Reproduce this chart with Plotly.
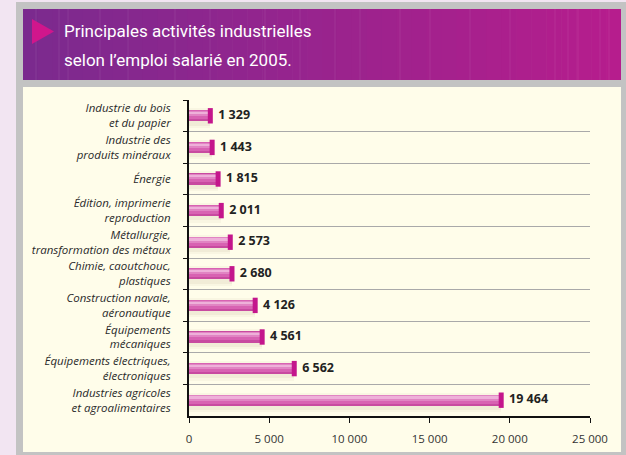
import plotly.graph_objects as go

categories = [
    "Industrie du bois<br>et du papier",
    "Industrie des<br>produits minéraux",
    "Énergie",
    "Édition, imprimerie<br>reproduction",
    "Métallurgie,<br>transformation des métaux",
    "Chimie, caoutchouc,<br>plastiques",
    "Construction navale,<br>aéronautique",
    "Équipements<br>mécaniques",
    "Équipements électriques,<br>électroniques",
    "Industries agricoles<br>et agroalimentaires",
]
values = [1329, 1443, 1815, 2011, 2573, 2680, 4126, 4561, 6562, 19464]
x_tickvals = [0, 5000, 10000, 15000, 20000, 25000]
x_ticktext = ["0", "5 000", "10 000", "15 000", "20 000", "25 000"]
value_labels = [f"{v:,}".replace(",", " ") for v in values]

W, H = 626, 455


def px(x):
    return x / W


def py(y):
    return 1 - y / H


fig = go.Figure()

# soft shadow (two layers)
fig.add_trace(go.Bar(y=categories, x=values, orientation="h", width=0.62, offset=-0.24,
                     marker=dict(color="rgba(140,120,70,0.05)", line=dict(width=0)),
                     hoverinfo="skip", showlegend=False))
fig.add_trace(go.Bar(y=categories, x=values, orientation="h", width=0.48, offset=-0.17,
                     marker=dict(color="rgba(140,120,70,0.07)", line=dict(width=0)),
                     hoverinfo="skip", showlegend=False))
# cylinder body
fig.add_trace(go.Bar(y=categories, x=values, orientation="h", width=0.36, offset=-0.18,
                     marker=dict(color="#c84aa0", line=dict(width=0)),
                     hoverinfo="skip", showlegend=False))
fig.add_trace(go.Bar(y=categories, x=values, orientation="h", width=0.28, offset=-0.17,
                     marker=dict(color="#d862b2", line=dict(width=0)),
                     hoverinfo="skip", showlegend=False))
fig.add_trace(go.Bar(y=categories, x=values, orientation="h", width=0.16, offset=-0.15,
                     marker=dict(color="#e184c3", line=dict(width=0)),
                     hoverinfo="skip", showlegend=False))
fig.add_trace(go.Bar(y=categories, x=values, orientation="h", width=0.07, offset=-0.12,
                     marker=dict(color="#eeb0d9", line=dict(width=0)),
                     hoverinfo="skip", showlegend=False))
# end caps + value labels
fig.add_trace(go.Scatter(
    y=categories, x=values, mode="markers+text",
    marker=dict(symbol="line-ns", size=11, color="#c4168c",
                line=dict(width=5, color="#c4168c")),
    text=value_labels, textposition="middle right",
    textfont=dict(family="Open Sans", size=12.5, color="#222222", weight="bold"),
    hoverinfo="skip", showlegend=False, cliponaxis=False,
))

shapes = []
# lavender page strips (left and top)
shapes.append(dict(type="rect", xref="paper", yref="paper", x0=0, x1=px(16),
                   y0=0, y1=1, fillcolor="#f2e5f2", line=dict(width=0), layer="below"))
shapes.append(dict(type="rect", xref="paper", yref="paper", x0=0, x1=1,
                   y0=py(2), y1=1, fillcolor="#f2e5f2", line=dict(width=0), layer="below"))
# cream panel
shapes.append(dict(type="rect", xref="paper", yref="paper", x0=px(23), x1=px(621),
                   y0=py(452), y1=py(87), fillcolor="#fffdea", line=dict(width=0), layer="below"))
# banner gradient (stripes)
c0 = (0x7b, 0x2a, 0x8e)
c1 = (0xb6, 0x1d, 0x8d)
n = 40
x0b, x1b = 23, 621
for i in range(n):
    t = i / (n - 1)
    col = tuple(round(c0[k] + (c1[k] - c0[k]) * t) for k in range(3))
    xa = x0b + (x1b - x0b) * i / n
    xb = x0b + (x1b - x0b) * (i + 1) / n + 0.6
    shapes.append(dict(type="rect", xref="paper", yref="paper", x0=px(xa), x1=px(min(xb, x1b)),
                       y0=py(80), y1=py(9), fillcolor="rgb(%d,%d,%d)" % col,
                       line=dict(width=0), layer="below"))
# faint vertical lines in banner
for xl in [36, 59, 68, 100, 128, 175, 210, 265, 300, 335, 360, 400, 430, 470, 510, 555, 568, 578, 600, 609]:
    shapes.append(dict(type="line", xref="paper", yref="paper", x0=px(xl), x1=px(xl),
                       y0=py(80), y1=py(9), line=dict(width=0.7, color="rgba(255,255,255,0.12)"),
                       layer="below"))
# triangle
shapes.append(dict(type="path", xref="paper", yref="paper",
                   path=f"M {px(32)},{py(19)} L {px(54)},{py(31.5)} L {px(32)},{py(44)} Z",
                   fillcolor="#d0168c", line=dict(width=0), layer="below"))

title_font = dict(family="Roboto", size=17, color="white", weight=400)
annotations = [
    dict(xref="paper", yref="paper", x=px(62), y=py(31), xanchor="left", yanchor="middle",
         text="Principales activités industrielles", showarrow=False, font=title_font),
    dict(xref="paper", yref="paper", x=px(62), y=py(60), xanchor="left", yanchor="middle",
         text="selon l’emploi salarié en 2005.", showarrow=False, font=title_font),
]

fig.update_layout(
    width=W, height=H,
    margin=dict(l=0, r=0, t=0, b=0, pad=0, autoexpand=False),
    paper_bgcolor="#c3c3c3",
    plot_bgcolor="rgba(0,0,0,0)",
    barmode="overlay",
    bargap=0,
    shapes=shapes,
    annotations=annotations,
    xaxis=dict(domain=[px(189), px(590)], range=[0, 25000], tickvals=x_tickvals,
               ticktext=x_ticktext, showgrid=False, zeroline=False, showline=True,
               linecolor="#111111", linewidth=1.5, ticks="outside", ticklen=5,
               tickcolor="#111111", tickwidth=1.2, ticklabelstandoff=6, automargin=False,
               tickfont=dict(family="Open Sans", size=11.5, color="#333333")),
    yaxis=dict(domain=[py(416), py(100)], autorange=False, range=[9.5, -0.5],
               categoryorder="array", categoryarray=categories, automargin=False,
               showgrid=True, gridcolor="#a9a9a9", gridwidth=1.2, tickson="boundaries",
               showline=True, linecolor="#111111", linewidth=2, ticks="outside",
               ticklen=4, tickcolor="#111111", tickwidth=1.2, ticklabelstandoff=14,
               zeroline=False,
               tickfont=dict(family="Open Sans", size=11.5, color="#2a2a2a", style="italic")),
)

post = ("var st=document.createElement('style');"
        "st.textContent='html,body{margin:0!important;padding:0!important;overflow:hidden!important;}';"
        "document.head.appendChild(st);")
fig.write_html("out.html", post_script=post, config={"displayModeBar": False})
